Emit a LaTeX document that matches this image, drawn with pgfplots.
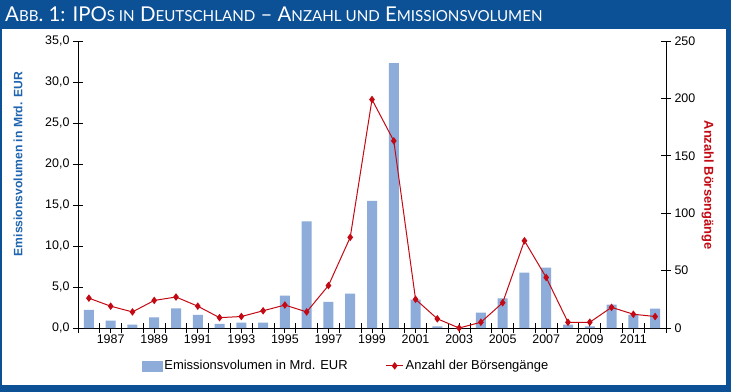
\documentclass[border=0pt]{standalone}
\usepackage{pgfplots}
\pgfplotsset{compat=1.18}
\usepackage{pgfplotstable}
\usepackage{fontspec}
\setmainfont{Liberation Sans}
\newfontfamily\titlefont{Lato}
\definecolor{frameblue}{RGB}{12,80,150}
\definecolor{barblue}{RGB}{141,172,218}
\definecolor{linered}{RGB}{195,10,20}
\definecolor{labelblue}{RGB}{30,100,175}
\newcommand{\SC}[1]{{\fontsize{15.2}{16}\selectfont #1}}

\pgfplotstableread{
idx year vol num
0 1986 2.2 26
1 1987 0.9 19
2 1988 0.4 14
3 1989 1.3 24
4 1990 2.4 27
5 1991 1.6 19
6 1992 0.5 9
7 1993 0.65 10
8 1994 0.65 15
9 1995 3.95 20
10 1996 13.0 14
11 1997 3.2 37
12 1998 4.2 79
13 1999 15.5 199
14 2000 32.3 163
15 2001 3.45 25
16 2002 0.2 8
17 2003 0.0 0
18 2004 1.87 5
19 2005 3.6 22
20 2006 6.75 76
21 2007 7.35 44
22 2008 0.4 5
23 2009 0.2 5
24 2010 2.85 18
25 2011 1.6 12
26 2012 2.35 10
}\data

\begin{document}
\begin{tikzpicture}
\fill[frameblue] (0bp,0bp) rectangle (731bp,392bp);
\fill[white] (2bp,7bp) rectangle (726bp,363bp);
\useasboundingbox (0bp,0bp) rectangle (731bp,392bp);
\node[anchor=base west, text=white, inner sep=0pt] at (5bp,370bp)
  {\titlefont\fontsize{20.5}{22}\selectfont A\SC{BB}. 1: IPO\SC{S IN} D\SC{EUTSCHLAND} – A\SC{NZAHL UND} E\SC{MISSIONSVOLUMEN}};

\begin{axis}[
  at={(78bp,64bp)}, anchor=south west,
  width=588bp, height=287bp, scale only axis,
  xmin=-0.5, xmax=26.5, ymin=0, ymax=35,
  axis x line*=bottom, axis y line*=left,
  axis line style={line width=0.8bp, -},
  tick align=center,
  major tick length=10bp,
  tick style={black, line width=0.8bp},
  xtick={-0.5,0.5,...,26.5}, xticklabels={},
  major x tick style={/pgfplots/major tick length=9bp},
  extra x ticks={1,3,5,7,9,11,13,15,17,19,21,23,25},
  extra x tick labels={1987,1989,1991,1993,1995,1997,1999,2001,2003,2005,2007,2009,2011},
  extra x tick style={major tick length=0pt},
  xticklabel style={font=\fontsize{12.5}{13}\selectfont, yshift=-3bp},
  ytick={0,5,...,35},
  yticklabel style={font=\fontsize{12.5}{13}\selectfont, /pgf/number format/.cd, fixed, fixed zerofill, precision=1, use comma, assume math mode=true},
  ylabel={Emissionsvolumen in Mrd. EUR},
  ylabel style={font=\fontsize{12.2}{13}\selectfont\bfseries, text=labelblue, at={(axis description cs:-0.102,0.571)}, anchor=center},
  clip=false,
]
\addplot[ybar, bar width=10bp, fill=barblue, draw=none] table[x=idx, y=vol] {\data};
\end{axis}

\begin{axis}[
  at={(78bp,64bp)}, anchor=south west,
  width=588bp, height=287bp, scale only axis,
  xmin=-0.5, xmax=26.5, ymin=0, ymax=250,
  axis x line=none, axis y line*=right,
  axis line style={line width=0.8bp, -},
  tick align=center,
  major tick length=10bp,
  tick style={black, line width=0.8bp},
  ytick={0,50,...,250},
  yticklabel style={font=\fontsize{12.5}{13}\selectfont, /pgf/number format/assume math mode=true},
  ylabel={Anzahl Börsengänge},
  ylabel style={font=\fontsize{13}{14}\selectfont\bfseries, text=linered, rotate=180, at={(axis description cs:1.071,0.498)}, anchor=center},
  legend style={draw=none, fill=none, at={(axis description cs:0.456,-0.132)}, anchor=center,
    legend columns=2, font=\fontsize{13}{14}\selectfont,
    /tikz/every even column/.append style={column sep=36bp},
    legend cell align=left},
  clip=false,
]
\addlegendimage{legend image code/.code={\fill[barblue] (0bp,-5bp) rectangle (20bp,5bp);}}
\addlegendentry{Emissionsvolumen in Mrd. EUR}
\addplot[linered, line width=1bp, mark=diamond*, mark size=3bp, mark options={fill=linered, draw=linered}] table[x=idx, y=num] {\data};
\addlegendentry{Anzahl der Börsengänge}
\end{axis}
\end{tikzpicture}
\end{document}
